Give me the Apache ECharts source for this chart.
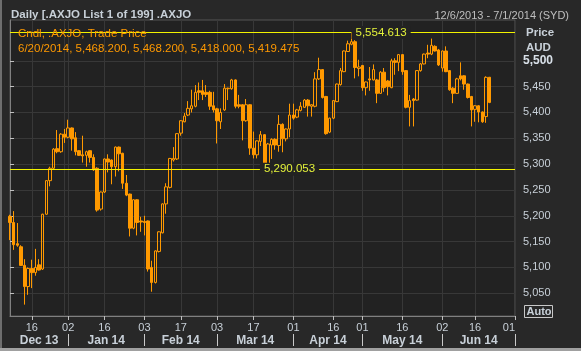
<!DOCTYPE html>
<html>
<head>
<meta charset="utf-8">
<script src="https://cdn.jsdelivr.net/npm/echarts@6/dist/echarts.min.js"></script>
<style>
  html, body { margin: 0; padding: 0; background: #282828; }
  #chart { width: 581px; height: 351px; }
</style>
</head>
<body>
<div id="chart"></div>
<script>
// trading days shown on the axis, Dec 2013 - Jul 2014
const tradingDays = {
    '2013-12': [6, 9, 10, 11, 12, 13, 16, 17, 18, 19, 20, 23, 24, 27, 30, 31],
    '2014-01': [2, 3, 6, 7, 8, 9, 10, 13, 14, 15, 16, 17, 20, 21, 22, 23, 24, 28, 29, 30, 31],
    '2014-02': [3, 4, 5, 6, 7, 10, 11, 12, 13, 14, 17, 18, 19, 20, 21, 24, 25, 26, 27, 28],
    '2014-03': [3, 4, 5, 6, 7, 10, 11, 12, 13, 14, 17, 18, 19, 20, 21, 24, 25, 26, 27, 28, 31],
    '2014-04': [1, 2, 3, 4, 7, 8, 9, 10, 11, 14, 15, 16, 17, 22, 23, 24, 28, 29, 30],
    '2014-05': [1, 2, 5, 6, 7, 8, 9, 12, 13, 14, 15, 16, 19, 20, 21, 22, 23, 26, 27, 28, 29, 30],
    '2014-06': [2, 3, 4, 5, 6, 10, 11, 12, 13, 16, 17, 18, 19, 20, 23, 24, 25, 26, 27, 30],
    '2014-07': [1]
};
const dayTicks = ['2013-12-16', '2014-01-02', '2014-01-16', '2014-02-03', '2014-02-17', '2014-03-03',
    '2014-03-17', '2014-04-01', '2014-04-16', '2014-05-01', '2014-05-16', '2014-06-02', '2014-06-16', '2014-07-01'];
const yearBreak = '2013-12-31';
const monthLabels = ['Dec 13', 'Jan 14', 'Feb 14', 'Mar 14', 'Apr 14', 'May 14', 'Jun 14'];
const monthLabelPos = [8, 26.5, 47, 67.5, 87.5, 108, 129];
const monthStarts = [16, 37, 57, 78, 97, 119, 139];
const priceTicks = [5050, 5100, 5150, 5200, 5250, 5300, 5350, 5400, 5450, 5500];

const open = [5199, 5187, 5146, 5140, 5104, 5063, 5098, 5090, 5105, 5097, 5203, 5268, 5292, 5330, 5324, 5358,
    5352, 5370, 5351, 5326, 5318, 5317, 5326, 5313, 5292, 5213, 5246, 5310, 5308, 5295, 5333, 5321, 5263, 5242,
    5176, 5231, 5190, 5189, 5190, 5100, 5071, 5131, 5167, 5223, 5255, 5308, 5310, 5360, 5382, 5395, 5407, 5412,
    5442, 5442, 5439, 5439, 5413, 5407, 5382, 5405, 5446, 5446, 5463, 5415, 5415, 5384, 5415, 5331, 5318, 5344,
    5357, 5295, 5337, 5348, 5336, 5377, 5349, 5368, 5395, 5391, 5404, 5410, 5424, 5412, 5412, 5465, 5483, 5431,
    5362, 5389, 5421, 5454, 5479, 5518, 5532, 5537, 5485, 5491, 5448, 5465, 5463, 5463, 5437, 5478, 5461, 5448,
    5500, 5497, 5512, 5481, 5410, 5426, 5424, 5481, 5494, 5515, 5513, 5528, 5521, 5486, 5519, 5481, 5447, 5437,
    5471, 5471, 5455, 5431, 5406, 5413, 5401, 5392, 5468.2];
const close = [5187, 5144, 5143, 5104, 5063, 5098, 5090, 5100, 5095, 5203, 5268, 5292, 5329, 5324, 5358, 5352,
    5370, 5349, 5324, 5317, 5316, 5324, 5313, 5289, 5211, 5246, 5310, 5304, 5295, 5333, 5320, 5263, 5240, 5176,
    5231, 5187, 5188, 5187, 5097, 5071, 5132, 5169, 5223, 5256, 5311, 5311, 5359, 5384, 5393, 5408, 5413, 5439,
    5439, 5435, 5435, 5412, 5405, 5384, 5400, 5447, 5447, 5463, 5412, 5412, 5384, 5415, 5331, 5318, 5345, 5357,
    5294, 5339, 5348, 5337, 5377, 5349, 5368, 5395, 5389, 5405, 5412, 5424, 5413, 5415, 5465, 5483, 5429, 5359,
    5389, 5423, 5455, 5481, 5519, 5533, 5537, 5487, 5488, 5448, 5459, 5463, 5483, 5437, 5478, 5448, 5450, 5500,
    5497, 5512, 5479, 5410, 5423, 5423, 5481, 5494, 5513, 5513, 5530, 5519, 5492, 5519, 5479, 5444, 5437, 5465,
    5465, 5455, 5429, 5405, 5413, 5401, 5382, 5468, 5419.475];
const low = [5153, 5134, 5140, 5103, 5028, 5047, 5060, 5084, 5094, 5095, 5202, 5257, 5290, 5321, 5322, 5341,
    5350, 5326, 5317, 5316, 5303, 5295, 5303, 5287, 5208, 5210, 5244, 5284, 5261, 5276, 5286, 5252, 5238, 5160,
    5174, 5162, 5169, 5162, 5092, 5053, 5069, 5129, 5166, 5204, 5253, 5305, 5308, 5355, 5381, 5393, 5400, 5410,
    5424, 5424, 5430, 5405, 5400, 5340, 5368, 5403, 5424, 5444, 5408, 5408, 5346, 5382, 5318, 5311, 5311, 5335,
    5289, 5290.053, 5310, 5328, 5324, 5323, 5344, 5352, 5386, 5389, 5402, 5409, 5392, 5392, 5410, 5463, 5427, 5357,
    5360, 5387, 5420, 5452, 5478, 5517, 5530, 5466, 5470, 5442, 5433, 5442, 5462, 5418, 5436, 5440, 5433, 5447,
    5473, 5480, 5473, 5408, 5373, 5373, 5423, 5479, 5493, 5505, 5511, 5518, 5490, 5479, 5478, 5442, 5418, 5436,
    5462, 5444, 5427, 5373, 5382, 5381, 5380, 5380, 5418];
const high = [5202, 5209, 5186, 5143, 5116, 5100, 5115, 5136, 5116, 5204, 5269, 5295, 5331, 5366, 5360, 5368,
    5386, 5371, 5362, 5327, 5355, 5326, 5327, 5319, 5294, 5247, 5311, 5319, 5309, 5334, 5334, 5322, 5279, 5243,
    5232, 5232, 5198, 5200, 5191, 5113, 5133, 5170, 5224, 5263, 5312, 5333, 5360, 5385, 5399, 5422, 5444, 5453,
    5458, 5463, 5453, 5442, 5440, 5409, 5408, 5455, 5448, 5465, 5464, 5434, 5416, 5426, 5416, 5363, 5346, 5364,
    5358, 5341, 5350, 5350, 5395, 5379, 5369, 5417, 5417, 5407, 5420, 5426, 5426, 5416, 5478, 5506, 5484, 5432,
    5390, 5424, 5456, 5486, 5520, 5539, 5554.613, 5540, 5502, 5492, 5460, 5488, 5493, 5465, 5480, 5486, 5463, 5504,
    5505, 5513, 5513, 5482, 5434, 5428, 5482, 5496, 5514, 5531, 5543, 5530, 5523, 5520, 5528, 5482, 5449, 5467,
    5497, 5472, 5456, 5432, 5414, 5414, 5402, 5470, 5468.2];

const periodHigh = 5554.613;
const periodLow = 5290.053;
const lastPrice = 5419.475;

const dates = [];
Object.keys(tradingDays).forEach(m => {
    tradingDays[m].forEach(d => dates.push(m + '-' + String(d).padStart(2, '0')));
});
const candles = open.map((o, i) => [o, close[i], low[i], high[i]]);
const tickIdx = dayTicks.map(d => dates.indexOf(d));
const breakIdx = dates.indexOf(yearBreak);
const highIdx = high.indexOf(periodHigh);
const lowIdx = low.indexOf(periodLow);

const ORANGE = '#ff9900';
const YELLOW = '#f2f200';
const TEXT = '#c8d0d8';
const PLOT_BG = '#222222';
const fmt3 = v => v.toLocaleString('en-US', { minimumFractionDigits: 3, maximumFractionDigits: 3 });
const FONT = 'Liberation Sans';

const chart = echarts.init(document.getElementById('chart'));
chart.setOption({
    animation: false,
    backgroundColor: '#282828',
    textStyle: { fontFamily: FONT },
    title: [
        { text: 'Daily [.AXJO List 1 of 199] .AXJO', left: 6, top: 4,
          textStyle: { color: TEXT, fontSize: 11.5, fontWeight: 'bold', fontFamily: FONT } },
        { text: '12/6/2013 - 7/1/2014 (SYD)', right: 7, top: 5,
          textStyle: { color: '#bfbfbf', fontSize: 11, fontWeight: 'normal', fontFamily: FONT } },
        { text: 'Cndl, .AXJO, Trade Price', left: 13, top: 23,
          textStyle: { color: ORANGE, fontSize: 11.5, fontWeight: 'normal', fontFamily: FONT } },
        { text: '6/20/2014, 5,468.200, 5,468.200, 5,418.000, ' + fmt3(lastPrice), left: 13, top: 38,
          textStyle: { color: ORANGE, fontSize: 11.5, fontWeight: 'normal', fontFamily: FONT } },
        { text: 'Price', left: 521, top: 22,
          textStyle: { color: TEXT, fontSize: 11.5, fontWeight: 'bold', fontFamily: FONT } },
        { text: 'AUD', left: 521, top: 37,
          textStyle: { color: TEXT, fontSize: 11.5, fontWeight: 'bold', fontFamily: FONT } }
    ],
    grid: {
        left: 10, right: 66, top: 20, bottom: 35,
        show: true, backgroundColor: PLOT_BG, borderColor: '#555555', borderWidth: 1
    },
    xAxis: [
        {
            type: 'category',
            data: dates,
            boundaryGap: false,
            axisLine: { lineStyle: { color: '#808080' } },
            axisTick: { interval: i => tickIdx.includes(i), length: 4, lineStyle: { color: '#c0c0c0' } },
            axisLabel: {
                interval: i => tickIdx.includes(i),
                formatter: d => d.slice(8, 10),
                color: TEXT, fontSize: 11, margin: 6, alignMaxLabel: 'right'
            },
            splitLine: {
                show: true,
                interval: i => tickIdx.includes(i) || i === breakIdx,
                lineStyle: { color: '#383838' }
            }
        },
        {
            type: 'value',
            min: 0,
            max: dates.length - 1,
            position: 'bottom',
            offset: 18,
            axisLine: { show: false },
            axisTick: { show: true, customValues: monthStarts, length: 12, lineStyle: { color: '#c8c8c8' } },
            axisLabel: {
                customValues: monthLabelPos,
                formatter: v => monthLabels[monthLabelPos.indexOf(v)],
                color: TEXT, fontSize: 12, fontWeight: 'bold', margin: 1
            },
            splitLine: { show: false }
        }
    ],
    yAxis: {
        type: 'value',
        position: 'right',
        min: 5006,
        max: 5579,
        splitNumber: 11,
        minInterval: 50,
        maxInterval: 50,
        axisLine: { show: true, lineStyle: { color: '#808080' } },
        axisTick: { show: true, customValues: priceTicks, length: 4, lineStyle: { color: '#c0c0c0' } },
        axisLabel: {
            customValues: priceTicks,
            margin: 8,
            color: TEXT,
            fontSize: 11,
            formatter: v => v === 5500 ? '{b|' + v.toLocaleString('en-US') + '}' : v.toLocaleString('en-US'),
            rich: { b: { fontWeight: 'bold', fontSize: 12, color: '#d8e0e8' } }
        },
        splitLine: { show: true, lineStyle: { color: '#383838' } }
    },
    series: [{
        type: 'candlestick',
        data: candles,
        barWidth: 3,
        itemStyle: {
            color: 'transparent', color0: ORANGE,
            borderColor: ORANGE, borderColor0: ORANGE, borderWidth: 1
        },
        markLine: {
            silent: true,
            symbol: ['none', 'none'],
            label: { show: false },
            lineStyle: { color: YELLOW, type: 'solid', width: 1 },
            data: [
                { yAxis: periodHigh },
                { yAxis: periodLow },
                {
                    yAxis: lastPrice,
                    lineStyle: { opacity: 0 },
                    label: {
                        show: true, position: 'end', distance: 1,
                        formatter: () => fmt3(lastPrice),
                        backgroundColor: ORANGE, color: '#000', fontWeight: 'bold',
                        fontSize: 12, padding: [1, 2, 0, 2]
                    }
                }
            ]
        },
        markPoint: {
            silent: true,
            symbol: 'rect',
            symbolSize: 0,
            label: {
                show: true, position: 'right', distance: 0,
                formatter: p => fmt3(p.value),
                color: '#e4f23a', fontSize: 11.5,
                backgroundColor: PLOT_BG, padding: [1, 4, 0, 4]
            },
            data: [
                { coord: [highIdx, periodHigh], value: periodHigh },
                { coord: [lowIdx, periodLow], value: periodLow, label: { offset: [-8, 0] } }
            ]
        }
    }],
    graphic: [
        { type: 'rect', left: 0, top: 0, shape: { width: 2, height: 351 }, style: { fill: '#6e6e6e' } },
        { type: 'rect', left: 0, top: 348, shape: { width: 581, height: 3 }, style: { fill: '#a0a0a0' } },
        {
            type: 'group', left: 522, top: 303,
            children: [
                { type: 'rect', shape: { x: 0.5, y: 0.5, width: 28, height: 12 },
                  style: { fill: 'none', stroke: '#c8c8c8', lineWidth: 1 } },
                { type: 'text', x: 15, y: 7,
                  style: { text: 'Auto', fill: TEXT, font: 'bold 11px "Liberation Sans"',
                           textAlign: 'center', textVerticalAlign: 'middle' } }
            ]
        }
    ]
});
</script>
</body>
</html>
